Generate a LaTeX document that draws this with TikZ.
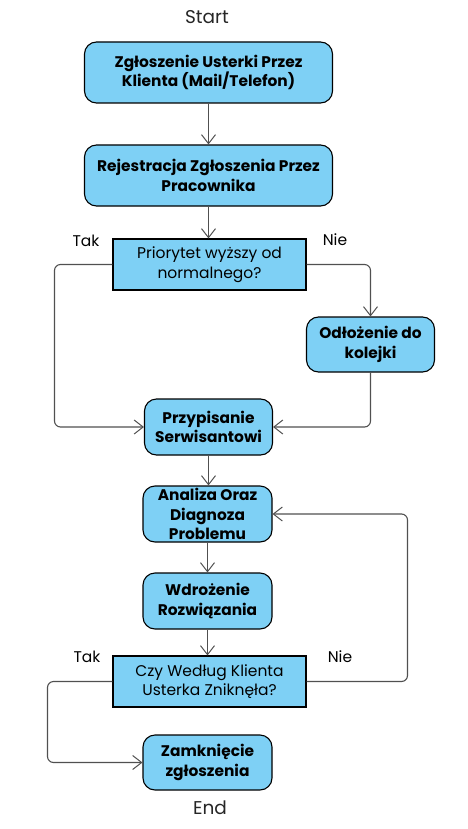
\documentclass[tikz,border=0pt]{standalone}
\usepackage{fontspec}
\setmainfont{Poppins}
\usetikzlibrary{arrows.meta}
\definecolor{boxblue}{RGB}{126,208,245}
\definecolor{linegray}{RGB}{80,80,80}
\tikzset{
  procbox/.style={draw=black, line width=1.1pt, fill=boxblue, rounded corners=12pt,
    align=center, font=\fontsize{15.4}{19.3}\selectfont\bfseries, inner sep=0pt},
  decbox/.style={draw=black, line width=1.1pt, fill=boxblue,
    align=center, font=\fontsize{15.5}{19.5}\selectfont, inner sep=0pt},
  termtxt/.style={font=\fontsize{18.5}{22}\selectfont, text=black!85},
  lbl/.style={font=\fontsize{15.5}{18}\selectfont},
  conn/.style={draw=linegray, line width=1.1pt, rounded corners=6pt,
    -{Straight Barb[length=9pt,width=14pt,line width=1pt]}},
}
\begin{document}
\begin{tikzpicture}[x=1pt,y=-1pt]
\useasboundingbox (0,0) rectangle (467,829);
\node[termtxt] (start) at (207,17) {Start};
\node[procbox, minimum width=248pt, minimum height=61pt] (b1) at (208.5,72.5) {Zgłoszenie Usterki Przez\\Klienta (Mail/Telefon)};
\node[procbox, minimum width=248pt, minimum height=61pt] (b2) at (208.5,175.5) {Rejestracja Zgłoszenia Przez\\Pracownika};
\node[decbox, minimum width=193pt, minimum height=51pt] (d1) at (209.5,264.5) {Priorytet wyższy od\\normalnego?};
\node[procbox, minimum width=128pt, minimum height=55pt] (o) at (370.5,344.5) {Odłożenie do\\kolejki};
\node[procbox, minimum width=128pt, minimum height=56pt] (p) at (208.5,427) {Przypisanie\\Serwisantowi};
\node[procbox, minimum width=129pt, minimum height=56pt] (a) at (207.5,514) {Analiza Oraz\\Diagnoza\\Problemu};
\node[procbox, minimum width=129pt, minimum height=56pt] (w) at (207.5,601) {Wdrożenie\\Rozwiązania};
\node[decbox, minimum width=193pt, minimum height=51pt] (d2) at (209.5,681.5) {Czy Według Klienta\\Usterka Zniknęła?};
\node[procbox, minimum width=129pt, minimum height=55pt] (z) at (207.5,762.5) {Zamknięcie\\zgłoszenia};
\node[termtxt] (end) at (210,808) {End};
\node[lbl] (tak1) at (86,241) {Tak};
\node[lbl] (nie1) at (335,240) {Nie};
\node[lbl] (tak2) at (87,657) {Tak};
\node[lbl] (nie2) at (340,657) {Nie};
\coordinate (L1) at (54.5,427);
\coordinate (R2) at (407.5,514);
\coordinate (L2) at (47.5,762.5);
\draw[conn] (b1.south) -- (b1.south |- b2.north);
\draw[conn] (b2.south) -- (b2.south |- d1.north);
\draw[conn] (d1.west) -| (L1) -- (p.west);
\draw[conn] (d1.east) -| (o.north);
\draw[conn] (o.south) |- (p.east);
\draw[conn] (p.south) -- (p.south |- a.north);
\draw[conn] (a.south) -- (a.south |- w.north);
\draw[conn] (w.south) -- (w.south |- d2.north);
\draw[conn] (d2.east) -| (R2) -- (a.east);
\draw[conn] (d2.west) -| (L2) -- (z.west);
\end{tikzpicture}
\end{document}
